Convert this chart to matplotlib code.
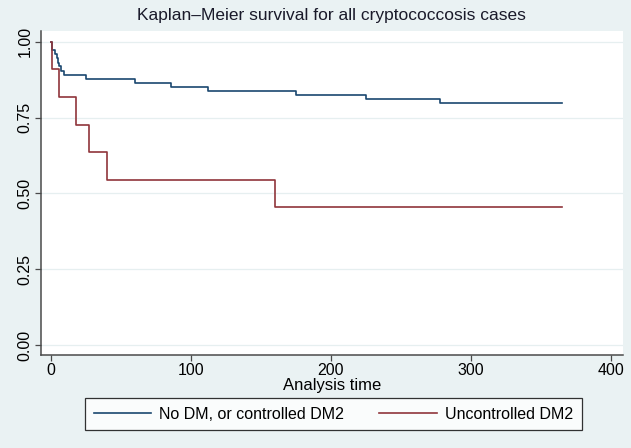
import numpy as np
import matplotlib.pyplot as plt

plt.rcParams['font.family'] = ['Liberation Sans', 'DejaVu Sans']

# Kaplan-Meier step estimates
t_ctrl = [0, 1, 3, 4, 5, 6, 7, 9, 25, 60, 86, 112, 175, 225, 278, 365]
s_ctrl = [1.0, 0.973, 0.959, 0.946, 0.932, 0.919, 0.905, 0.892,
          0.878, 0.865, 0.851, 0.838, 0.824, 0.811, 0.797, 0.797]
t_unctrl = [0, 1, 6, 18, 27, 40, 160, 365]
s_unctrl = [1.0, 0.909, 0.818, 0.727, 0.636, 0.545, 0.455, 0.455]

labels = ['No DM, or controlled DM2', 'Uncontrolled DM2']
xticks = [0, 100, 200, 300, 400]
yticks = [0.0, 0.25, 0.5, 0.75, 1.0]

bg = '#EAF2F3'
navy = '#1A476F'
maroon = '#90353B'
axcol = '#4a4a4a'

fig = plt.figure(figsize=(6.31, 4.48), dpi=100, facecolor=bg)
ax = fig.add_axes([0.065, 0.2076, 0.922, 0.7232])
ax.set_facecolor('white')

for y in yticks:
    ax.axhline(y, color='#E6EFF0', lw=0.9, zorder=0)

l1, = ax.step(t_ctrl, s_ctrl, where='post', color=navy, lw=1.2)
l2, = ax.step(t_unctrl, s_unctrl, where='post', color=maroon, lw=1.2)

ax.set_xlim(-7.1, 408.6)
ax.set_ylim(-0.033, 1.036)
ax.set_xticks(xticks)
ax.set_yticks(yticks)
ax.set_yticklabels(['%.2f' % v for v in yticks], rotation=90, va='center')

for side in ['top', 'right']:
    ax.spines[side].set_visible(False)
for side in ['left', 'bottom']:
    ax.spines[side].set_color(axcol)
    ax.spines[side].set_linewidth(1.1)
ax.tick_params(direction='out', length=4, width=0.9, color=axcol,
               labelsize=11.5, labelcolor='black', pad=2)

ax.set_xlabel('Analysis time', fontsize=12, labelpad=0)
fig.text(0.526, 0.966, 'Kaplan\u2013Meier survival for all cryptococcosis cases',
         ha='center', va='center', fontsize=12.5, color='#1a1a2a')

leg = fig.legend([l1, l2], labels, loc='center', bbox_to_anchor=(0.528, 1 - 414 / 448),
                 ncol=2, frameon=True, fancybox=False, edgecolor='black',
                 fontsize=11.5, handlelength=3.6, handletextpad=0.5,
                 columnspacing=2.2, borderpad=0.55)
leg.get_frame().set_linewidth(0.9)

fig.savefig('out.png', dpi=100, facecolor=bg)
